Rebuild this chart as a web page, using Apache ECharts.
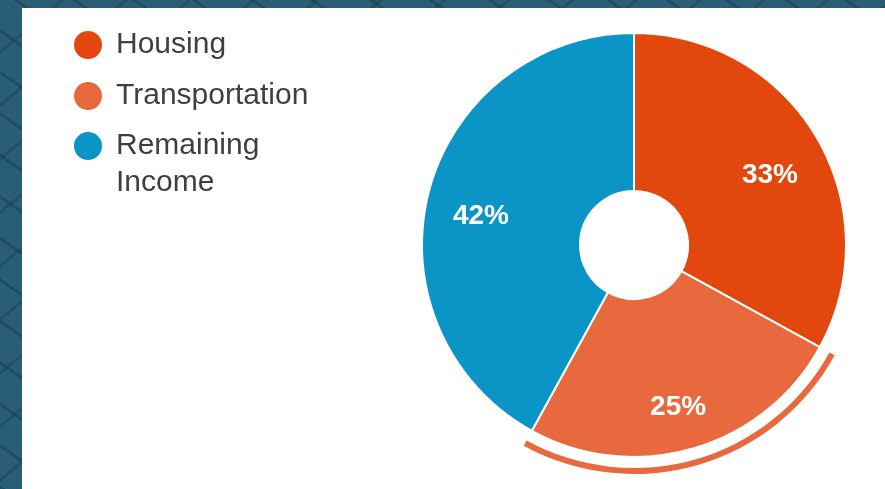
<!DOCTYPE html>
<html>
<head>
<meta charset="utf-8">
<script src="https://cdn.jsdelivr.net/npm/echarts@6/dist/echarts.min.js"></script>
<style>
  html, body { margin: 0; padding: 0; }
  body {
    width: 885px; height: 489px; overflow: hidden; position: relative;
    background-color: #2a5e77;
    background-image:
      repeating-linear-gradient(35deg, rgba(20,60,80,0.5) 0 3px, transparent 3px 34px),
      repeating-linear-gradient(-40deg, rgba(20,60,80,0.4) 0 3px, transparent 3px 41px);
  }
  #panel { position: absolute; left: 22px; top: 8px; right: 0; bottom: 0; background: #ffffff; }
  #chart { position: absolute; left: 0; top: 0; width: 885px; height: 489px; }
</style>
</head>
<body>
<div id="panel"></div>
<div id="chart"></div>
<script>
const categories = ['Housing', 'Transportation', 'Remaining Income'];
const shares = [33, 25, 42];
const colors = ['#e2480e', '#e8693d', '#0b95c7'];
const highlighted = 'Transportation';

const center = [634, 245];
const pieData = categories.map((c, i) => ({ name: c, value: shares[i], itemStyle: { color: colors[i] } }));
const ringData = categories.map((c, i) => ({
  name: c, value: shares[i],
  itemStyle: { color: c === highlighted ? colors[i] : 'rgba(0,0,0,0)' }
}));
const labelData = categories.map((c, i) => ({ name: c, value: shares[i] }));

const legendTops = [21.5, 72.5, 85.5];
const legends = categories.map((c, i) => ({
  orient: 'vertical',
  left: 67,
  top: legendTops[i],
  itemWidth: 30,
  itemHeight: 30,
  icon: 'circle',
  selectedMode: false,
  data: [c],
  formatter: n => n.indexOf(' ') >= 0 ? ' \n' + n.replace(' ', '\n') : n,
  textStyle: {
    fontFamily: 'Liberation Sans, Arial, sans-serif',
    fontSize: 30,
    color: '#3f3f3f',
    lineHeight: 37,
    padding: [0, 0, 0, 8]
  }
}));

const chart = echarts.init(document.getElementById('chart'), null, { renderer: 'canvas' });
chart.setOption({
  backgroundColor: 'transparent',
  animation: false,
  color: colors,
  legend: legends,
  series: [
    {
      name: 'main',
      type: 'pie',
      center: center,
      radius: [54, 212],
      startAngle: 90,
      clockwise: true,
      silent: true,
      label: { show: false },
      labelLine: { show: false },
      itemStyle: { borderColor: '#ffffff', borderWidth: 2 },
      data: pieData
    },
    {
      name: 'ring',
      type: 'pie',
      center: center,
      radius: [223, 229],
      startAngle: 90,
      clockwise: true,
      silent: true,
      legendHoverLink: false,
      label: { show: false },
      labelLine: { show: false },
      data: ringData
    },
    {
      name: 'labels',
      type: 'pie',
      center: center,
      radius: [98, 212],
      startAngle: 90,
      clockwise: true,
      silent: true,
      legendHoverLink: false,
      itemStyle: { color: 'rgba(0,0,0,0)' },
      label: {
        show: true,
        position: 'inside',
        formatter: p => ' \n' + p.value + '%',
        color: '#ffffff',
        fontFamily: 'Liberation Sans, Arial, sans-serif',
        fontWeight: 'bold',
        fontSize: 28,
        lineHeight: 22
      },
      labelLine: { show: false },
      data: labelData
    }
  ]
});
</script>
</body>
</html>
